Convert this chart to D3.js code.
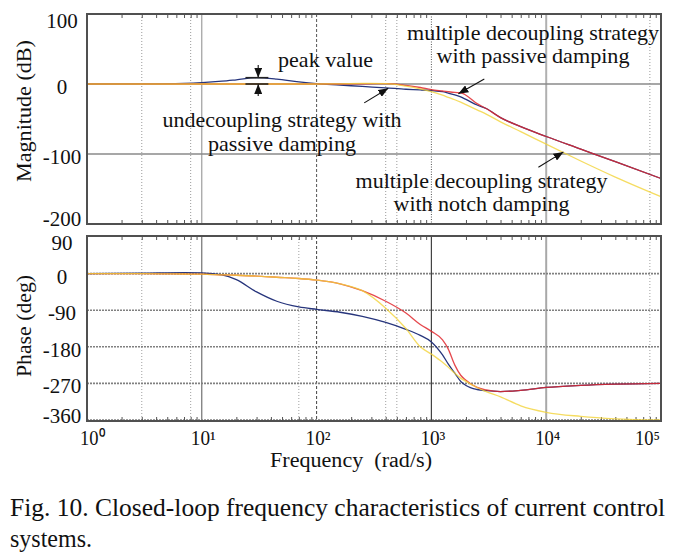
<!DOCTYPE html>
<html><head><meta charset="utf-8">
<script src="https://cdn.jsdelivr.net/npm/d3@7"></script>
<style>
body{margin:0;background:#fff}
text{font-family:"Liberation Serif","Times New Roman",serif;fill:#111}
</style>
</head><body><svg id="c" width="684" height="558"></svg>
<script>
// ---------- data ----------
const freq      = [1, 3, 7, 10, 15, 20, 30, 45, 70, 100, 160, 250, 400, 600, 800, 1000, 1250, 1400, 1600, 1800, 2000, 2500, 3000, 4000, 6000, 10000, 20000, 40000, 100000];
const magBlue   = [0, 0.2, 1, 2, 4, 6, 9, 7, 3, 0.5, -1.5, -3.5, -5.5, -7.5, -8.5, -9.5, -11, -13, -15.5, -18.5, -22, -30, -35, -48, -61, -75, -93, -111, -135];
const magRed    = [0, 0, 0, 0, 0, 0, 0, 0, 0, 0, 0, 0.3, 0.5, -2, -5, -8, -10, -11, -12, -12.5, -16, -28, -35, -48, -61, -75, -93, -111, -135];
const magYellow = [0, 0, 0, 0, 0, 0, 0, 0, 0, 0, 0.3, 0.8, 0.5, -3, -7, -11, -16, -19, -22.5, -26, -29.5, -37, -43, -54, -68, -86, -110, -133, -161];
const phBlue    = [0, 1, 2.5, 2, -3, -15, -45, -68, -82, -88, -95, -105, -120, -137, -152, -168, -200, -222, -245, -265, -275, -285, -288, -290, -287, -280, -275, -272, -270];
const phRed     = [0, 0, -1, -1.5, -3, -4, -6, -9, -12, -16, -25, -42, -68, -97, -125, -142, -163, -185, -225, -250, -262, -280, -286, -290, -287, -280, -275, -272, -270];
const phYellow  = [0, 0, -1, -1.5, -3, -4, -6, -9, -12, -16, -25, -42, -85, -135, -180, -198, -218, -230, -245, -257, -265, -280, -290, -303, -325, -341, -351, -357, -360];

const magTicks   = [100, 0, -100, -200];
const phaseTicks = [90, 0, -90, -180, -270, -360];
const decadeTicks = [1, 10, 100, 1000, 10000, 100000];
const decadeLabels = ["10\u2070", "10\u00b9", "10\u00b2", "10\u00b3", "10\u2074", "10\u2075"];
const lightGridTop = [3, 8, 400, 500, 80000];
const lightGridBot = [3, 8, 70, 400, 500, 80000];

// ---------- layout ----------
const svg = d3.select("#c");
const X0 = 87, X1 = 661;
const pTop = {y0: 14, y1: 224};
const pBot = {y0: 236, y1: 421};
const x = d3.scaleLog().domain([1, 1e5]).range([X0, X1]);
const yMag = d3.scaleLinear().domain([-200, 100]).range([224, 14]);
const yPh  = d3.scaleLinear().domain([-360, 90]).range([420, 237]);

const colors = {blue: "#27357c", red: "#e0282e", yellow: "#f2d33a"};
const defs = svg.append("defs");

// minor log ticks
const minors = [];
for (let d = 0; d < 5; d++) for (let k = 2; k <= 9; k++) minors.push(k * Math.pow(10, d));

function vgrid(panel, vals, style) {
  svg.append("g").selectAll("line").data(vals).join("line")
    .attr("x1", d => x(d)).attr("x2", d => x(d))
    .attr("y1", panel.y0).attr("y2", panel.y1)
    .attr("stroke", style.c).attr("stroke-width", style.w)
    .attr("stroke-dasharray", style.dash || null);
}
function hgrid(scale, vals, style) {
  svg.append("g").selectAll("line").data(vals).join("line")
    .attr("x1", X0).attr("x2", X1)
    .attr("y1", d => scale(d)).attr("y2", d => scale(d))
    .attr("stroke", style.c).attr("stroke-width", style.w)
    .attr("stroke-dasharray", style.dash || null);
}

// ----- top panel grid -----
vgrid(pTop, lightGridTop, {c: "#9a9a9a", w: 1, dash: "1,2"});
vgrid(pTop, [10], {c: "#8a8a8a", w: 1});
vgrid(pTop, [100], {c: "#555", w: 1, dash: "3,2"});
vgrid(pTop, [1000], {c: "#555", w: 1, dash: "1,1.5"});
vgrid(pTop, [10000], {c: "#b0b0b0", w: 2});
hgrid(yMag, [0, -100], {c: "#8a8a8a", w: 1.6});

// ----- bottom panel grid -----
vgrid(pBot, lightGridBot, {c: "#a0a0a0", w: 1, dash: "1,2"});
vgrid(pBot, [10], {c: "#555", w: 1});
vgrid(pBot, [100], {c: "#444", w: 1, dash: "3,2"});
vgrid(pBot, [1000], {c: "#444", w: 1.2});
vgrid(pBot, [10000], {c: "#a8a8a8", w: 2});
hgrid(yPh, [0, -90, -180, -270, -360], {c: "#808080", w: 1.6, dash: "2,1"});

// ----- minor ticks -----
function ticks(panel) {
  svg.append("g").attr("transform", `translate(0,${panel.y0})`)
    .call(d3.axisBottom(x).tickValues(minors).tickSize(4).tickFormat(""))
    .call(g => g.select(".domain").remove())
    .selectAll("line").attr("stroke", "#555");
  svg.append("g").attr("transform", `translate(0,${panel.y1})`)
    .call(d3.axisTop(x).tickValues(minors).tickSize(4).tickFormat(""))
    .call(g => g.select(".domain").remove())
    .selectAll("line").attr("stroke", "#555");
}
ticks(pTop); ticks(pBot);

// ----- curves -----
function drawSeries(scale, vals, color, op) {
  const line = d3.line().x(d => x(d[0])).y(d => scale(d[1])).curve(d3.curveMonotoneX);
  svg.append("path").datum(freq.map((f, i) => [f, vals[i]]))
    .attr("d", line).attr("fill", "none").attr("stroke", color)
    .attr("stroke-width", 1.3).attr("stroke-opacity", op);
}
drawSeries(yMag, magBlue, colors.blue, 1);
drawSeries(yMag, magRed, colors.red, 0.85);
drawSeries(yMag, magYellow, colors.yellow, 0.8);
drawSeries(yPh, phBlue, colors.blue, 1);
drawSeries(yPh, phRed, colors.red, 0.85);
drawSeries(yPh, phYellow, colors.yellow, 0.8);

// ----- frames -----
[pTop, pBot].forEach(p => svg.append("rect")
  .attr("x", X0).attr("y", p.y0).attr("width", X1 - X0).attr("height", p.y1 - p.y0)
  .attr("fill", "none").attr("stroke", "#505050").attr("stroke-width", 2));

// ----- y tick labels -----
function ylabels(panel, scale, vals) {
  svg.append("g").selectAll("text").data(vals).join("text")
    .attr("x", 62)
    .attr("y", d => Math.max(panel.y0 + 14, Math.min(scale(d) + 10, panel.y1 + 1.5)))
    .attr("text-anchor", "middle").attr("font-size", 21)
    .text(d => d);
}
ylabels(pTop, yMag, magTicks);
ylabels(pBot, yPh, phaseTicks);

// ----- x tick labels (10^n) -----
svg.append("g").selectAll("text").data(decadeTicks).join("text")
  .attr("x", d => Math.max(80, Math.min(x(d) - 11, 635)))
  .attr("y", 444.5).attr("font-size", 20)
  .attr("textLength", 25).attr("lengthAdjust", "spacingAndGlyphs")
  .text((d, i) => decadeLabels[i]);

// ----- axis titles -----
svg.append("text").attr("x", 351).attr("y", 467).attr("text-anchor", "middle")
  .attr("font-size", 20).attr("textLength", 162).attr("lengthAdjust", "spacingAndGlyphs")
  .text("Frequency\u00a0 (rad/s)");
svg.append("text").attr("transform", "translate(31,111) rotate(-90)").attr("text-anchor", "middle")
  .attr("font-size", 22).attr("textLength", 142).attr("lengthAdjust", "spacingAndGlyphs")
  .text("Magnitude (dB)");
svg.append("text").attr("transform", "translate(31,326) rotate(-90)").attr("text-anchor", "middle")
  .attr("font-size", 22).attr("textLength", 102).attr("lengthAdjust", "spacingAndGlyphs")
  .text("Phase (deg)");

// ----- annotations -----
const notes = [
  {t: "peak value", x: 325.5, y: 67, w: 95},
  {t: "undecoupling strategy with", x: 282, y: 127, w: 239},
  {t: "passive damping", x: 282, y: 151, w: 148},
  {t: "multiple decoupling strategy", x: 533, y: 39.5, w: 252},
  {t: "with passive damping", x: 533, y: 63, w: 193},
  {t: "multiple decoupling strategy", x: 481.5, y: 187.5, w: 252},
  {t: "with notch damping", x: 481.5, y: 211, w: 176}
];
svg.append("g").selectAll("text").data(notes).join("text")
  .attr("x", d => d.x).attr("y", d => d.y).attr("text-anchor", "middle")
  .attr("font-size", 21).attr("textLength", d => d.w).attr("lengthAdjust", "spacingAndGlyphs")
  .text(d => d.t);

defs.append("marker").attr("id", "ah")
  .attr("markerUnits", "userSpaceOnUse").attr("markerWidth", 10).attr("markerHeight", 8)
  .attr("refX", 10).attr("refY", 4).attr("orient", "auto")
  .append("path").attr("d", "M0,0 L10,4 L0,8 Z").attr("fill", "#111");

// arrows: [fromFreq, fromValue, toFreq, toValue] in magnitude coordinates
const arrows = [
  [31, 27, 31, 9],
  [31, -17, 31, 0],
  [260, -27, 421, -6],
  [2890, 7, 1718, -14],
  [8550, -119, 14130, -97]
];
svg.append("g").selectAll("line").data(arrows).join("line")
  .attr("x1", d => x(d[0])).attr("y1", d => yMag(d[1]))
  .attr("x2", d => x(d[2])).attr("y2", d => yMag(d[3]))
  .attr("stroke", "#111").attr("stroke-width", 1.1).attr("marker-end", "url(#ah)");

// peak bars
svg.append("g").selectAll("line").data([9, 0]).join("line")
  .attr("x1", x(24)).attr("x2", x(38))
  .attr("y1", d => yMag(d)).attr("y2", d => yMag(d))
  .attr("stroke", "#222").attr("stroke-width", 1.6);

// ----- caption -----
svg.append("text").attr("x", 10).attr("y", 516).attr("font-size", 25)
  .attr("textLength", 655).attr("lengthAdjust", "spacingAndGlyphs")
  .text("Fig. 10. Closed-loop frequency characteristics of current control");
svg.append("text").attr("x", 10).attr("y", 547).attr("font-size", 25)
  .attr("textLength", 82).attr("lengthAdjust", "spacingAndGlyphs")
  .text("systems.");
</script></body></html>
